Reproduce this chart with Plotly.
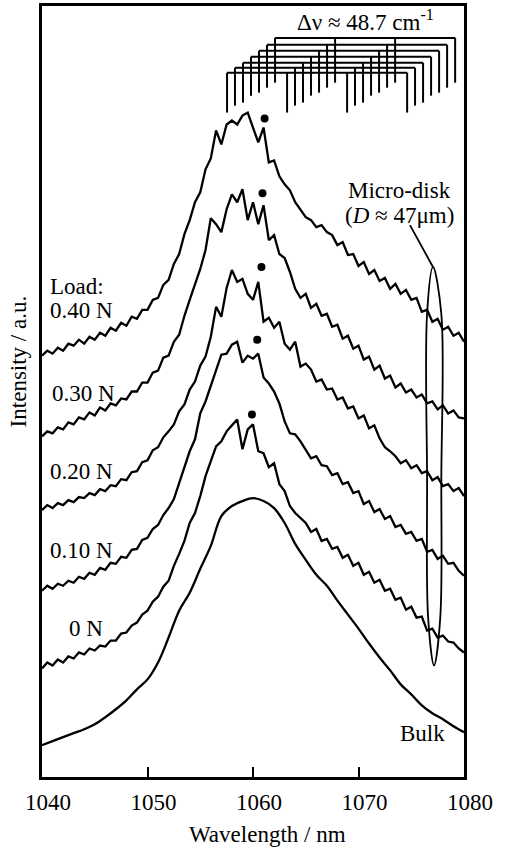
import plotly.graph_objects as go

# ---------------- data ----------------
wavelength = [1040.0, 1040.5, 1041.0, 1041.5, 1042.0, 1042.5, 1043.0, 1043.5, 1044.0, 1044.5,
              1045.0, 1045.5, 1046.0, 1046.5, 1047.0, 1047.5, 1048.0, 1048.5, 1049.0, 1049.5,
              1050.0, 1050.5, 1051.0, 1051.5, 1052.0, 1052.5, 1053.0, 1053.5, 1054.0, 1054.5,
              1055.0, 1055.5, 1056.0, 1056.5, 1057.0, 1057.5, 1058.0, 1058.5, 1059.0, 1059.5,
              1060.0, 1060.5, 1061.0, 1061.5, 1062.0, 1062.5, 1063.0, 1063.5, 1064.0, 1064.5,
              1065.0, 1065.5, 1066.0, 1066.5, 1067.0, 1067.5, 1068.0, 1068.5, 1069.0, 1069.5,
              1070.0, 1070.5, 1071.0, 1071.5, 1072.0, 1072.5, 1073.0, 1073.5, 1074.0, 1074.5,
              1075.0, 1075.5, 1076.0, 1076.5, 1077.0, 1077.5, 1078.0, 1078.5, 1079.0, 1079.5,
              1080.0]

load_040N = [423, 428, 425, 431, 428, 435, 433, 439, 435, 442,
             439, 446, 443, 451, 448, 456, 453, 462, 460, 469,
             469, 479, 481, 494, 499, 515, 525, 545, 559, 577,
             587, 610, 621, 649, 635, 655, 659, 655, 664, 667,
             652, 637, 652, 617, 619, 603, 595, 589, 577, 569,
             562, 559, 552, 554, 547, 544, 534, 537, 524, 525,
             513, 517, 505, 509, 498, 501, 490, 495, 485, 489,
             479, 481, 467, 469, 457, 460, 449, 452, 443, 446,
             437]

load_030N = [342, 347, 345, 351, 349, 356, 354, 361, 359, 366,
             363, 371, 368, 375, 373, 380, 379, 387, 387, 396,
             396, 406, 408, 421, 423, 437, 444, 463, 479, 495,
             510, 529, 561, 555, 547, 570, 585, 577, 590, 559,
             577, 555, 574, 539, 544, 525, 521, 507, 490, 481,
             485, 471, 475, 463, 465, 452, 454, 440, 443, 430,
             433, 419, 422, 409, 413, 400, 403, 391, 395, 386,
             389, 381, 384, 375, 377, 369, 373, 365, 368, 361,
             360]

load_020N = [268, 273, 270, 275, 273, 278, 276, 281, 280, 285,
             283, 289, 287, 293, 292, 299, 298, 306, 307, 316,
             318, 328, 331, 341, 347, 354, 367, 374, 389, 397,
             413, 422, 442, 472, 462, 491, 509, 497, 500, 485,
             479, 497, 457, 461, 451, 457, 435, 429, 437, 412,
             415, 409, 397, 399, 389, 390, 379, 381, 370, 372,
             360, 363, 350, 353, 340, 331, 327, 322, 315, 318,
             310, 313, 305, 307, 298, 301, 292, 294, 287, 290,
             282]

load_010N = [187, 192, 189, 194, 192, 197, 195, 201, 199, 205,
             203, 210, 208, 215, 214, 221, 220, 228, 229, 238,
             240, 249, 253, 263, 270, 279, 295, 312, 327, 339,
             365, 377, 393, 409, 424, 425, 434, 437, 416, 423,
             420, 425, 401, 395, 387, 375, 357, 345, 344, 337,
             329, 320, 322, 313, 312, 303, 305, 294, 296, 285,
             287, 274, 277, 266, 269, 259, 262, 251, 253, 244,
             246, 237, 239, 226, 228, 219, 222, 214, 215, 207,
             202]

load_0N = [109, 115, 112, 118, 115, 121, 119, 125, 123, 129,
           127, 132, 131, 137, 137, 144, 145, 152, 155, 163,
           167, 176, 181, 191, 197, 212, 224, 237, 255, 265,
           282, 302, 317, 332, 337, 347, 353, 359, 329, 349,
           354, 327, 325, 311, 315, 294, 287, 272, 265, 260,
           255, 246, 249, 237, 239, 229, 231, 220, 223, 212,
           215, 203, 206, 195, 198, 187, 189, 178, 180, 168,
           171, 160, 161, 147, 149, 140, 142, 136, 135, 129,
           125]

wavelength_bulk = [1040, 1041, 1042, 1043, 1044, 1045, 1046, 1047, 1048, 1049,
                   1050, 1051, 1052, 1053, 1054, 1055, 1056, 1057, 1058, 1059,
                   1060, 1061, 1062, 1063, 1064, 1065, 1066, 1067, 1068, 1069,
                   1070, 1071, 1072, 1073, 1074, 1075, 1076, 1077, 1078, 1079,
                   1080]
bulk = [32, 36, 40, 44, 48, 53, 60, 68, 77, 88,
        98, 115, 140, 167, 185, 209, 232, 262, 272, 277,
        280, 277, 270, 255, 234, 218, 203, 192, 177, 163,
        149, 134, 120, 107, 93, 83, 72, 64, 58, 51,
        45]

# marked mode (dots) for each loaded spectrum
dot_wavelength = [1061.1, 1060.9, 1060.8, 1060.4, 1059.9]
dot_intensity = [661, 586, 512, 439, 364]

# mode-comb annotation (7 families of modes, 4 teeth each)
comb_start_nm = [1057.54, 1058.29, 1059.05, 1059.81, 1060.57, 1061.33, 1062.09]
comb_bar_level = [707, 712, 717, 723, 729, 735, 742]
comb_tooth_end = [667, 674, 677, 684, 687, 692, 697]
mode_spacing_nm = 5.69

curve_labels = ["0.40 N", "0.30 N", "0.20 N", "0.10 N", "0 N"]
curve_label_x = [1040.55, 1040.75, 1040.55, 1040.55, 1042.4]
curve_label_y = [468, 385, 307, 227, 149]

# loop around the micro-disk spectra
loop_x = [1077.06, 1076.5, 1076.5, 1076.6, 1077.16, 1077.75, 1077.85, 1077.85, 1077.06]
loop_y = [512, 465, 300, 160, 112, 160, 300, 465, 512]
leader_x = [1074.88, 1077.06]
leader_y = [554, 512]

# ---------------- figure ----------------
FONT = "Liberation Serif, Times New Roman, serif"
fig = go.Figure()

line_style = dict(color="black", width=2.3)
for ys in [load_040N, load_030N, load_020N, load_010N, load_0N]:
    fig.add_trace(go.Scatter(x=wavelength, y=ys, mode="lines", line=line_style,
                             hoverinfo="skip", showlegend=False))
fig.add_trace(go.Scatter(x=wavelength_bulk, y=bulk, mode="lines", line=line_style,
                         line_shape="spline", hoverinfo="skip", showlegend=False))

fig.add_trace(go.Scatter(x=dot_wavelength, y=dot_intensity, mode="markers",
                         marker=dict(color="black", size=8), showlegend=False,
                         hoverinfo="skip"))

# comb
cx, cy = [], []
for s, lvl, end in zip(comb_start_nm, comb_bar_level, comb_tooth_end):
    teeth = [s + j * mode_spacing_nm for j in range(4)]
    cx += [teeth[0], teeth[-1], None]
    cy += [lvl, lvl, None]
    for t in teeth:
        cx += [t, t, None]
        cy += [lvl, end, None]
fig.add_trace(go.Scatter(x=cx, y=cy, mode="lines", line=dict(color="black", width=2),
                         showlegend=False, hoverinfo="skip"))

fig.add_trace(go.Scatter(x=loop_x, y=loop_y, mode="lines", line=dict(color="black", width=1.8),
                         line_shape="spline", showlegend=False, hoverinfo="skip"))
fig.add_trace(go.Scatter(x=leader_x, y=leader_y, mode="lines", line=dict(color="black", width=1.8),
                         showlegend=False, hoverinfo="skip"))

ann = []
def txt(x, y, s, xanchor="left", size=23):
    ann.append(dict(x=x, y=y, xref="x", yref="y", text=s, showarrow=False,
                    xanchor=xanchor, yanchor="middle",
                    font=dict(family=FONT, size=size, color="black")))

txt(1040.55, 492, "Load:")
for lab, lx, ly in zip(curve_labels, curve_label_x, curve_label_y):
    txt(lx, ly, lab)
txt(1073.7, 44, "Bulk")
txt(1073.9, 589, "Micro-disk", xanchor="center")
txt(1073.9, 564, "(<i>D</i> ≈ 47μm)", xanchor="center")
txt(1070.7, 759, "Δν ≈ 48.7 cm<sup>-1</sup>", xanchor="center")

ann.append(dict(x=0.5355, y=-0.075, xref="paper", yref="paper", text="Wavelength / nm",
                showarrow=False, xanchor="center", yanchor="middle",
                font=dict(family=FONT, size=23, color="black")))
ann.append(dict(x=-0.057, y=0.539, xref="paper", yref="paper", text="Intensity / a.u.",
                showarrow=False, xanchor="center", yanchor="middle", textangle=-90,
                font=dict(family=FONT, size=23, color="black")))

fig.update_layout(
    width=507, height=847,
    margin=dict(l=42, r=43, t=3, b=70),
    paper_bgcolor="white", plot_bgcolor="white",
    annotations=ann,
    xaxis=dict(range=[1040, 1080], tickvals=[1040, 1050, 1060, 1070, 1080],
               ticks="inside", ticklen=10, tickwidth=2, tickcolor="black",
               showline=True, linecolor="black", linewidth=3, mirror=True,
               showgrid=False, zeroline=False,
               tickfont=dict(family=FONT, size=23, color="black"),
               ticklabelshift=6, ticklabelstandoff=2),
    yaxis=dict(range=[0, 774], showticklabels=False, ticks="",
               showline=True, linecolor="black", linewidth=3, mirror=True,
               showgrid=False, zeroline=False),
)

fig.write_html("out.html", config={"displayModeBar": False},
               post_script="document.body.style.margin='0px';")
